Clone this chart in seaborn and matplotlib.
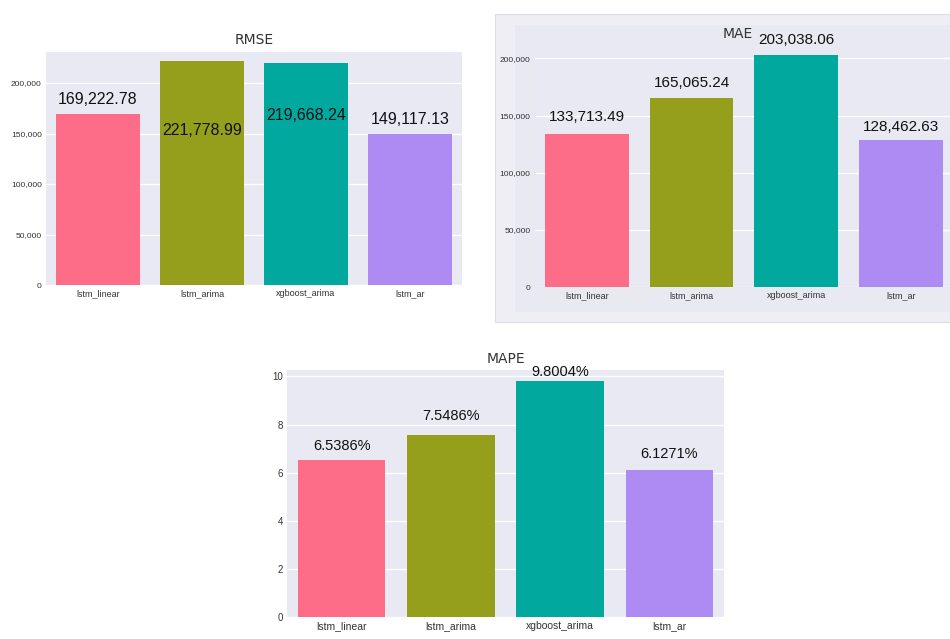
import matplotlib
matplotlib.use("Agg")
import matplotlib.pyplot as plt
import matplotlib.patches as mpatches
from matplotlib.ticker import FuncFormatter
import seaborn as sns
import pandas as pd

# ---- data ----
models = ["lstm_linear", "lstm_arima", "xgboost_arima", "lstm_ar"]
rmse = [169222.78, 221778.99, 219668.24, 149117.13]
mae = [133713.49, 165065.24, 203038.06, 128462.63]
mape = [6.5386, 7.5486, 9.8004, 6.1271]
rmse_ticks = [0, 50000, 100000, 150000, 200000]
mae_ticks = [0, 50000, 100000, 150000, 200000]
mape_ticks = [0, 2, 4, 6, 8, 10]
bar_colors = ["#fe6d88", "#959f1c", "#00a89d", "#ae8bf2"]

sns.set_theme(style="darkgrid")
plt.rcParams["font.family"] = ["Liberation Sans", "DejaVu Sans"]

W, H = 950, 639
fig = plt.figure(figsize=(W / 100, H / 100), dpi=100)
fig.patch.set_facecolor("white")


def px_axes(x0, y0, x1, y1):
    return fig.add_axes([x0 / W, 1 - y1 / H, (x1 - x0) / W, (y1 - y0) / H])


# MAE panel background box
outer = mpatches.Rectangle((495 / W, 1 - 322 / H), 455 / W, 308 / H,
                           transform=fig.transFigure, facecolor="#efeef4",
                           edgecolor="#dedde7", lw=0.8, zorder=-10)
inner = mpatches.Rectangle((515 / W, 1 - 312 / H), 435 / W, 287 / H,
                           transform=fig.transFigure, facecolor="#e8e9f1",
                           edgecolor="none", zorder=-9)
fig.add_artist(outer)
fig.add_artist(inner)

pal = sns.color_palette(bar_colors)


def panel(ax, values, ticks, ylim_top, xlim, title, labels, offsets, lab_size,
          ytick_size, xtick_size, fmt, title_pad, title_x=0.5):
    df = pd.DataFrame({"model": models, "value": values})
    sns.barplot(data=df, x="model", y="value", hue="model", palette=pal,
                legend=False, ax=ax, width=0.8, saturation=1, linewidth=0)
    ax.set_ylim(0, ylim_top)
    ax.set_xlim(*xlim)
    ax.set_yticks(ticks)
    ax.yaxis.set_major_formatter(FuncFormatter(fmt))
    ax.set_xlabel("")
    ax.set_ylabel("")
    ax.set_facecolor("#e8e9f2")
    for s in ax.spines.values():
        s.set_visible(False)
    ax.grid(axis="x", visible=False)
    ax.grid(axis="y", color="white", lw=1.0)
    ax.tick_params(axis="both", length=0, colors="#333333", pad=3)
    ax.tick_params(axis="y", labelsize=ytick_size)
    ax.tick_params(axis="x", labelsize=xtick_size)
    ax.set_title(title, fontsize=10, family="DejaVu Sans", color="#333333",
                 pad=title_pad, x=title_x)
    for i, (v, lab, off) in enumerate(zip(values, labels, offsets)):
        ax.annotate(lab, xy=(i, v), xytext=(0, off * 0.72), textcoords="offset points",
                    ha="center", va="center", fontsize=lab_size, color="#111111",
                    annotation_clip=False)


comma = lambda v, p: f"{v:,.0f}"
plain = lambda v, p: f"{v:g}"

ax1 = px_axes(46, 52, 462, 285)
panel(ax1, rmse, rmse_ticks, 230700, (-0.5, 3.5), "RMSE",
      [f"{v:,.2f}" for v in rmse], [15, -69, -52, 15], 11.5, 6, 6.5, comma, 6)

ax2 = px_axes(534.6, 45, 950, 287)
panel(ax2, mae, mae_ticks, 211700, (-0.5, 3.47), "MAE",
      [f"{v:,.2f}" for v in mae], [17, 15, 15, 13], 11, 6, 6.5, comma, 5, 0.49)

ax3 = px_axes(287, 370, 724, 617)
panel(ax3, mape, mape_ticks, 10.27, (-0.5, 3.5), "MAPE",
      [f"{v:.4f}%" for v in mape], [14, 19, 9, 16], 10.5, 7, 7.5, plain, 5)

fig.savefig("out.png", dpi=100, facecolor="white")
